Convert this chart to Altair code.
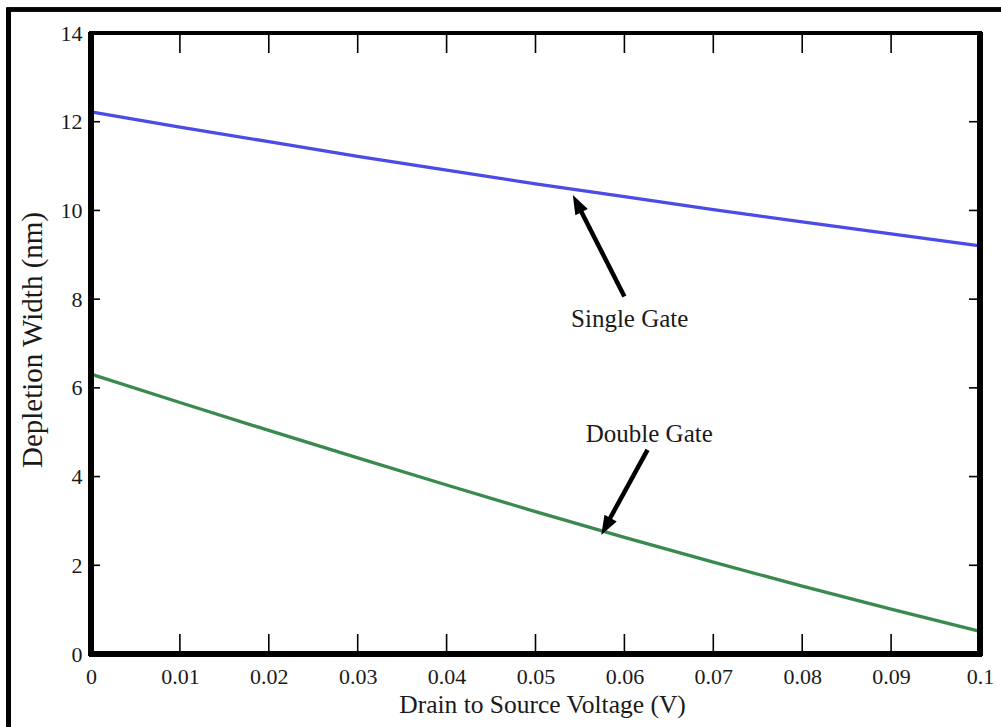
import altair as alt
import pandas as pd

# ---- data ----
voltage = [0.0, 0.01, 0.02, 0.03, 0.04, 0.05, 0.06, 0.07, 0.08, 0.09, 0.1]
single_gate = [12.22, 11.88, 11.55, 11.22, 10.91, 10.60, 10.31, 10.02, 9.74, 9.47, 9.20]
double_gate = [6.31, 5.67, 5.04, 4.42, 3.81, 3.21, 2.63, 2.07, 1.53, 1.01, 0.51]

x_ticks = [0.0, 0.01, 0.02, 0.03, 0.04, 0.05, 0.06, 0.07, 0.08, 0.09, 0.1]
y_ticks = [0, 2, 4, 6, 8, 10, 12, 14]
x_inner_ticks = [0.01, 0.02, 0.03, 0.04, 0.05, 0.06, 0.07, 0.08, 0.09]
y_inner_ticks = [2, 4, 6, 8, 10, 12]

# annotations: label text, label position, arrow tail, shaft end, tip, head angle
ann_text = ["Single Gate", "Double Gate"]
ann_lx = [0.0606, 0.0628]
ann_ly = [7.38, 4.77]
arrow_tail_x = [0.0600, 0.0626]
arrow_tail_y = [8.06, 4.60]
arrow_end_x = [0.0548, 0.0580]
arrow_end_y = [10.11, 2.92]
arrow_tip_x = [0.0542, 0.0574]
arrow_tip_y = [10.35, 2.68]
arrow_angle = [333.1, 208.7]

W, H = 889, 621
FONT = "Liberation Serif"

lines_df = pd.DataFrame({
    "v": voltage * 2,
    "w": single_gate + double_gate,
    "s": ["Single Gate"] * len(voltage) + ["Double Gate"] * len(voltage),
})
ann_df = pd.DataFrame({
    "text": ann_text, "lx": ann_lx, "ly": ann_ly,
    "tx": arrow_tail_x, "ty": arrow_tail_y,
    "ex": arrow_end_x, "ey": arrow_end_y,
    "px": arrow_tip_x, "py": arrow_tip_y, "ang": arrow_angle,
})

xscale = alt.Scale(domain=[0, 0.1], nice=False, zero=False)
yscale = alt.Scale(domain=[0, 14], nice=False)

xaxis = alt.Axis(values=x_ticks, format="~g", ticks=False, tickSize=0, domain=False, grid=False,
                 labelFont=FONT, labelFontSize=22, labelColor="#1a1a1a", labelPadding=29,
                 labelBaseline="alphabetic", labelOverlap=False, labelBound=False, labelFlush=False,
                 title="Drain to Source Voltage (V)", titleFont=FONT, titleFontSize=25.5,
                 titleFontWeight="normal", titleColor="#1a1a1a", titleBaseline="alphabetic",
                 titleX=451, titleY=58, titleAnchor="middle")
yaxis = alt.Axis(values=y_ticks, ticks=False, tickSize=0, domain=False, grid=False,
                 labelFont=FONT, labelFontSize=22, labelColor="#1a1a1a", labelPadding=9,
                 labelOverlap=False, labelBound=False, labelFlush=False,
                 title="Depletion Width (nm)", titleFont=FONT, titleFontSize=29,
                 titleFontWeight="normal", titleColor="#1a1a1a", titleBaseline="alphabetic",
                 titleX=-50, titleY=H / 2 - 4, titleAngle=270, titleAnchor="middle")

base = alt.Chart(lines_df)

lines = base.mark_line(strokeWidth=3.3).encode(
    x=alt.X("v:Q", scale=xscale, axis=xaxis),
    y=alt.Y("w:Q", scale=yscale, axis=yaxis),
    color=alt.Color("s:N", scale=alt.Scale(domain=["Single Gate", "Double Gate"],
                                           range=["#4B4BE6", "#3A8A50"]), legend=None),
)

# inward ticks
xt_df = pd.DataFrame({"v": x_inner_ticks})
yt_df = pd.DataFrame({"w": y_inner_ticks})
xt_bottom = alt.Chart(xt_df).mark_rule(color="black", strokeWidth=1.6).encode(
    x=alt.X("v:Q", scale=xscale), y=alt.value(H), y2=alt.value(H - 20))
xt_top = alt.Chart(xt_df).mark_rule(color="black", strokeWidth=1.6).encode(
    x=alt.X("v:Q", scale=xscale), y=alt.value(0), y2=alt.value(20))
yt_left = alt.Chart(yt_df).mark_rule(color="black", strokeWidth=1.6).encode(
    y=alt.Y("w:Q", scale=yscale), x=alt.value(0), x2=alt.value(9))
yt_right = alt.Chart(yt_df).mark_rule(color="black", strokeWidth=1.6).encode(
    y=alt.Y("w:Q", scale=yscale), x=alt.value(W), x2=alt.value(W - 11))

# plot frame
frame_left = alt.Chart(xt_df).mark_rule(color="black", strokeWidth=5).encode(
    x=alt.value(0), y=alt.value(-1), y2=alt.value(H + 2))
frame_right = alt.Chart(xt_df).mark_rule(color="black", strokeWidth=5.5).encode(
    x=alt.value(W), y=alt.value(-1), y2=alt.value(H + 2))
frame_bottom = alt.Chart(xt_df).mark_rule(color="black", strokeWidth=5).encode(
    y=alt.value(H), x=alt.value(-2), x2=alt.value(W + 2))
frame_top = alt.Chart(xt_df).mark_rule(color="black", strokeWidth=3).encode(
    y=alt.value(0), x=alt.value(-2), x2=alt.value(W + 2))

# outer picture border
outer_left = alt.Chart(xt_df).mark_rule(color="black", strokeWidth=4).encode(
    x=alt.value(-82.5), y=alt.value(-25), y2=alt.value(H + 80))
outer_top = alt.Chart(xt_df).mark_rule(color="black", strokeWidth=3.5).encode(
    y=alt.value(-23.5), x=alt.value(-84.5), x2=alt.value(W + 40))

# annotations
ann = alt.Chart(ann_df)
shafts = ann.mark_rule(color="black", strokeWidth=4.5).encode(
    x=alt.X("tx:Q", scale=xscale), y=alt.Y("ty:Q", scale=yscale),
    x2="ex:Q", y2="ey:Q")
heads = ann.mark_point(shape="M0,0L-0.36,1L0.36,1Z", filled=True, color="black",
                       opacity=1, size=1500).encode(
    x=alt.X("px:Q", scale=xscale), y=alt.Y("py:Q", scale=yscale),
    angle=alt.Angle("ang:Q", scale=None))
labels = ann.mark_text(font=FONT, fontSize=25, color="#1a1a1a", baseline="alphabetic",
                       align="center").encode(
    x=alt.X("lx:Q", scale=xscale), y=alt.Y("ly:Q", scale=yscale), text="text:N")

chart = alt.layer(
    lines, xt_bottom, xt_top, yt_left, yt_right,
    frame_left, frame_right, frame_bottom, frame_top,
    outer_left, outer_top, shafts, heads, labels,
).properties(
    width=W, height=H,
    autosize=alt.AutoSizeParams(type="none"),
    padding={"left": 91, "top": 33, "right": 1001 - 91 - W, "bottom": 727 - 33 - H},
).configure_view(stroke=None).configure(background="white")

chart.save("out.html", embed_options={"renderer": "svg", "actions": False})
